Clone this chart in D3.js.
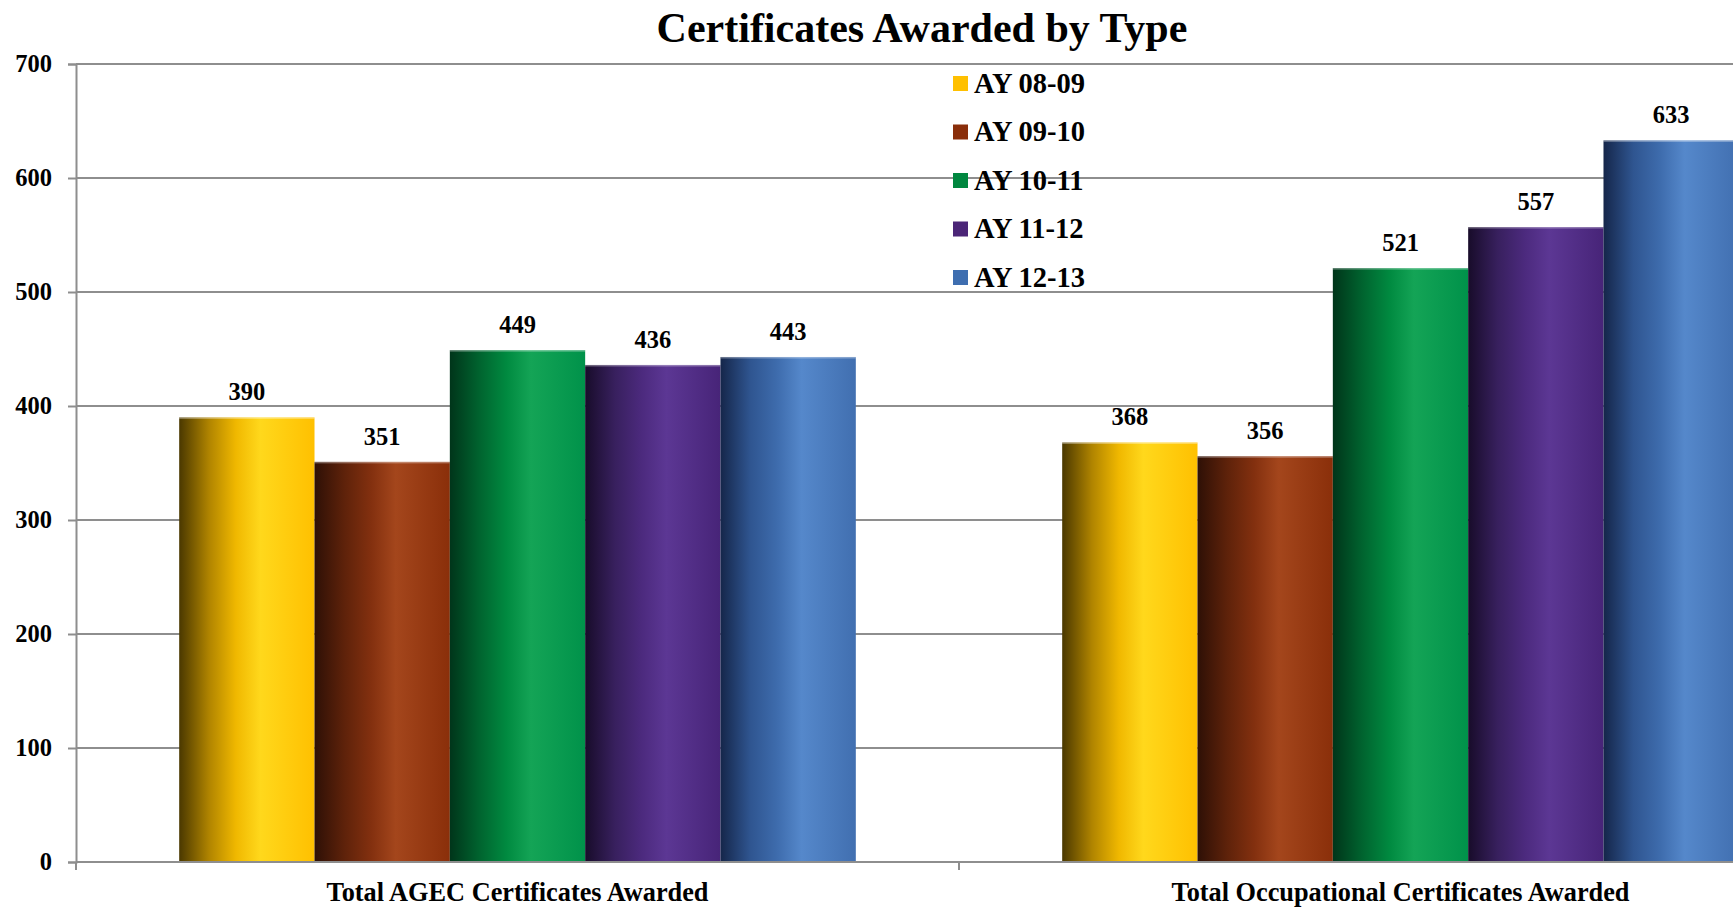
<!DOCTYPE html>
<html>
<head>
<meta charset="utf-8">
<script src="https://cdn.jsdelivr.net/npm/d3@7"></script>
<style>
  html, body { margin: 0; padding: 0; background: #fff; }
  svg { display: block; }
  text { font-family: "Liberation Serif", "Times New Roman", serif; font-weight: bold; fill: #000; }
</style>
</head>
<body>
<svg id="chart" width="1733" height="907"></svg>
<script>
const title = "Certificates Awarded by Type";
const categories = ["Total AGEC Certificates Awarded", "Total Occupational Certificates Awarded"];
const seriesNames = ["AY 08-09", "AY 09-10", "AY 10-11", "AY 11-12", "AY 12-13"];
const ay0809 = [390, 368];
const ay0910 = [351, 356];
const ay1011 = [449, 521];
const ay1112 = [436, 557];
const ay1213 = [443, 633];
const seriesValues = [ay0809, ay0910, ay1011, ay1112, ay1213];
const yTicks = [0, 100, 200, 300, 400, 500, 600, 700];

const legendColors = ["#ffc000", "#8a2e0a", "#00873f", "#4b2577", "#3e6eb0"];
const gradStops = [
  ["#4a3800", "#b08400", "#f0b800", "#ffd81c", "#ffc000"],
  ["#2e1006", "#5e220a", "#83300f", "#a4461c", "#8a2f0a"],
  ["#00351a", "#00642f", "#008a40", "#14a456", "#00924a"],
  ["#180c2a", "#38205e", "#4c2a7e", "#5c3794", "#472478"],
  ["#15264a", "#2f5590", "#3e6cad", "#5588cb", "#416fb0"]
];

const svg = d3.select("#chart");
const W = 1733;
const plotLeft = 76, plotTop = 64, plotBottom = 862;
const catWidth = 883;

const x0 = d3.scaleBand().domain(categories).range([plotLeft, plotLeft + catWidth * categories.length]).padding(0);
const x1 = d3.scaleBand().domain(seriesNames).range([0, x0.bandwidth()]).paddingInner(0).paddingOuter(0.7625);
const y = d3.scaleLinear().domain([0, 700]).range([plotBottom, plotTop]);

// gradients
const defs = svg.append("defs");
gradStops.forEach((stops, i) => {
  const g = defs.append("linearGradient").attr("id", "g" + i)
    .attr("x1", "0%").attr("x2", "100%").attr("y1", "0%").attr("y2", "0%");
  const offs = [0, 0.22, 0.42, 0.6, 1];
  stops.forEach((c, j) => g.append("stop").attr("offset", offs[j]).attr("stop-color", c));
});

// gridlines
svg.append("g").selectAll("line").data(yTicks.filter(d => d > 0)).join("line")
  .attr("x1", plotLeft).attr("x2", W + 200)
  .attr("y1", d => y(d)).attr("y2", d => y(d))
  .attr("stroke", "#8e8e8e").attr("stroke-width", 2);

// y axis
const yAxis = svg.append("g").attr("transform", `translate(${plotLeft},0)`)
  .call(d3.axisLeft(y).tickValues(yTicks).tickSize(8).tickPadding(16).tickFormat(d3.format("d")));
yAxis.select(".domain").attr("stroke", "#8e8e8e").attr("stroke-width", 2);
yAxis.selectAll(".tick line").attr("stroke", "#8e8e8e").attr("stroke-width", 2);
yAxis.selectAll(".tick text").style("font-family", "Liberation Serif").style("font-weight", "bold")
  .style("font-size", "24.5px").attr("fill", "#000").attr("dy", "0.32em");

// bars
const groups = svg.append("g").selectAll("g").data(categories).join("g")
  .attr("transform", d => `translate(${x0(d)},0)`);
groups.each(function(cat, ci) {
  const g = d3.select(this);
  seriesNames.forEach((s, si) => {
    const v = seriesValues[si][ci];
    g.append("rect")
      .attr("x", x1(s)).attr("width", x1.bandwidth())
      .attr("y", y(v)).attr("height", y(0) - y(v))
      .attr("fill", `url(#g${si})`);
    g.append("rect")
      .attr("x", x1(s)).attr("width", x1.bandwidth())
      .attr("y", y(v)).attr("height", 1.5)
      .attr("fill", "#ffffff").attr("opacity", 0.35);
    g.append("text")
      .attr("x", x1(s) + x1.bandwidth() / 2).attr("y", y(v) - 17)
      .attr("text-anchor", "middle").style("font-size", "24.5px")
      .text(v);
  });
});

// x axis
const xAxis = svg.append("g").attr("transform", `translate(0,${plotBottom})`);
xAxis.append("line").attr("x1", plotLeft).attr("x2", W + 200).attr("y1", 0).attr("y2", 0)
  .attr("stroke", "#8e8e8e").attr("stroke-width", 2);
const boundaries = categories.map(c => x0(c)).concat([x0(categories[categories.length - 1]) + x0.bandwidth()]);
xAxis.selectAll("line.tk").data(boundaries).join("line").attr("class", "tk")
  .attr("x1", d => d).attr("x2", d => d).attr("y1", 0).attr("y2", 8)
  .attr("stroke", "#8e8e8e").attr("stroke-width", 2);
xAxis.selectAll("text").data(categories).join("text")
  .attr("x", d => x0(d) + x0.bandwidth() / 2).attr("y", 39)
  .attr("text-anchor", "middle").style("font-size", "26.3px")
  .text(d => d);

// title
svg.append("text").attr("x", 922).attr("y", 42).attr("text-anchor", "middle")
  .style("font-size", "42px").text(title);

// legend
const legend = svg.append("g").attr("transform", "translate(953,76)");
seriesNames.forEach((s, i) => {
  const row = legend.append("g").attr("transform", `translate(0,${i * 48.5})`);
  row.append("rect").attr("width", 15).attr("height", 15).attr("fill", legendColors[i]);
  row.append("text").attr("x", 21).attr("y", 16.5).style("font-size", "28.5px").text(s);
});
</script>
</body>
</html>
